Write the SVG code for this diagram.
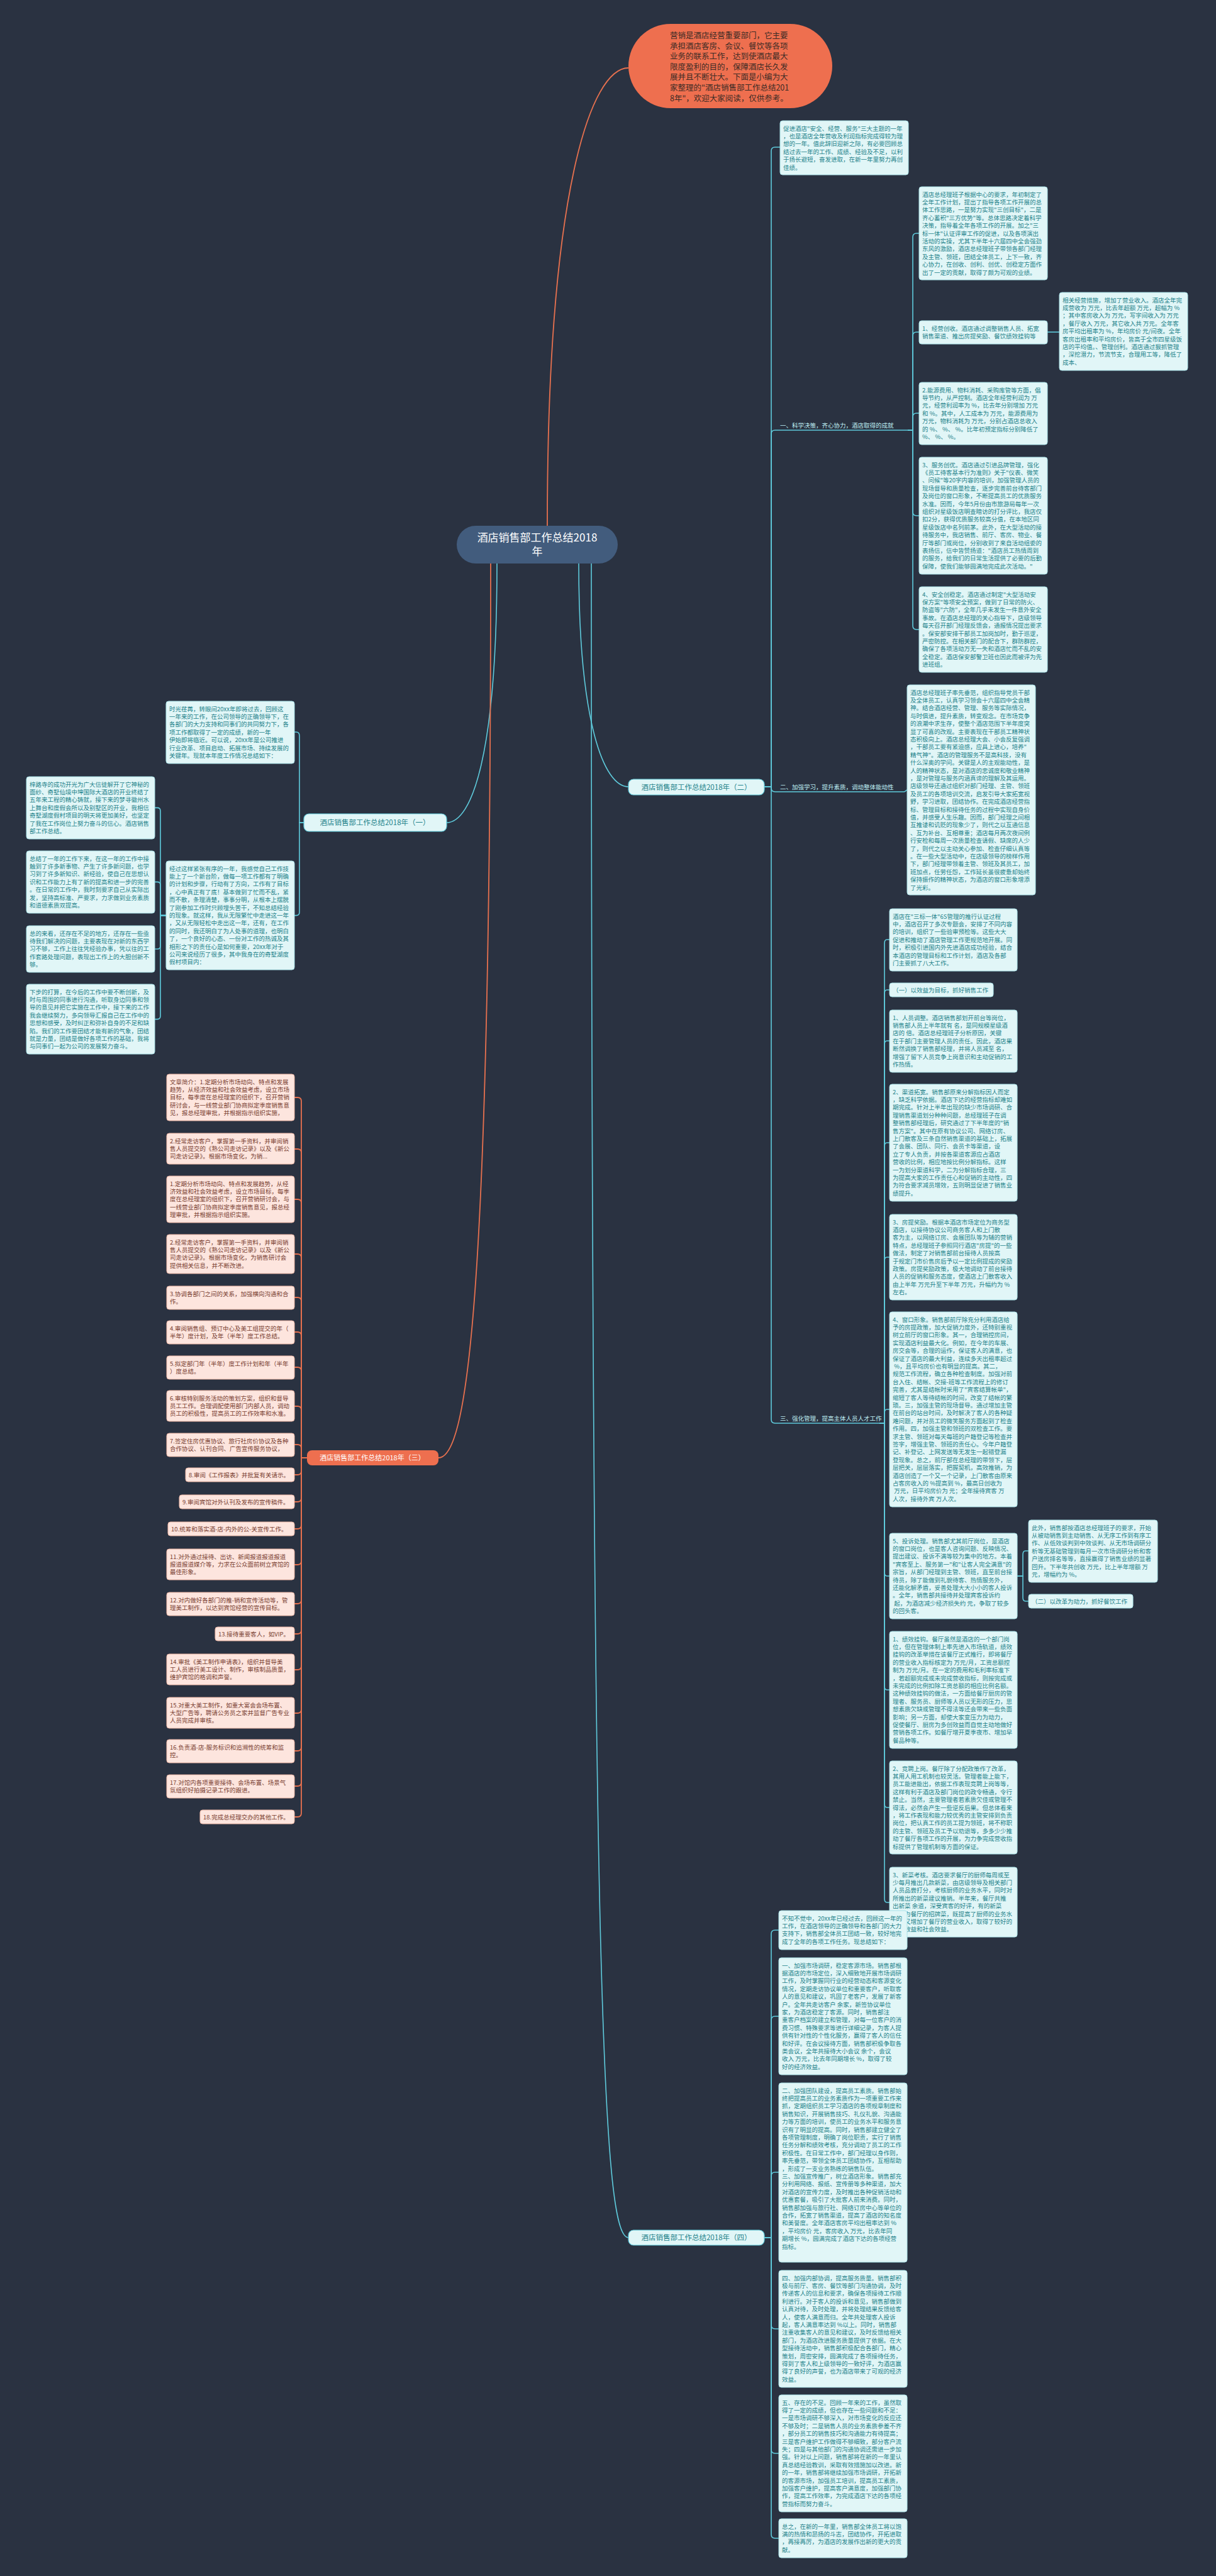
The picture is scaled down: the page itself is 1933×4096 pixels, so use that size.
<svg xmlns="http://www.w3.org/2000/svg" width="1933" height="4096" viewBox="0 0 1933 4096">
<style>
text{font-family:"Noto Sans CJK SC","Noto Sans",sans-serif}
.tb{fill:#e1f6f7;stroke:#a9e2e8;stroke-width:1}
.tt{fill:#24838b;font-size:9.5px}
.pb{fill:#fde5de;stroke:#eeb7a6;stroke-width:1}
.pt{fill:#7a3f32;font-size:9.5px}
.cl{fill:none;stroke:#5fcbdc;stroke-width:1.6}
.co{fill:none;stroke:#e7714f;stroke-width:1.8}
.lb{fill:#bfeef3;font-size:9.5px}
.bn{fill:#e1f6f7;stroke:#5fcbdc;stroke-width:1.2}
.bt{fill:#24838b;font-size:11.5px}
</style>
<rect x="0" y="0" width="1933" height="4096" fill="#2a3241"/>
<g id="connectors">
<path class="co" d="M870,836 C870,300 940,108 999,108"/>
<path class="cl" d="M920,896 C920,1150 960,1251 999,1251"/>
<path class="cl" d="M940,896 C940,3200 960,3558 999,3558"/>
<path class="cl" d="M790,896 C790,1200 750,1308 710,1308"/>
<path class="co" d="M780,896 C780,2100 740,2318 697,2318"/>
<path class="cl" d="M483,1308 H476 V1170 Q476,1164 471,1164 H468"/>
<path class="cl" d="M483,1308 H476 V1450.6 Q476,1455.6 471,1455.6 H468"/>
<path class="cl" d="M264,1455.6 H255 V1289.4 Q255,1284.4 250,1284.4 H246"/>
<path class="cl" d="M264,1455.6 H255 V1407.4 Q255,1402.4 250,1402.4 H246"/>
<path class="cl" d="M264,1455.6 H255 V1504 Q255,1509 250,1509 H246"/>
<path class="cl" d="M264,1455.6 H255 V1615.6 Q255,1620.6 250,1620.6 H246"/>
<path class="cl" d="M1215,1251 H1226 V240 Q1226,234 1232,234 H1240"/>
<path class="cl" d="M1215,1251 H1226 V690 Q1226,684 1232,684 H1237"/>
<path class="cl" d="M1215,1251 H1226 V1253 Q1226,1259 1232,1259 H1237"/>
<path class="cl" d="M1215,1251 H1226 V2257 Q1226,2263 1232,2263 H1237"/>
<path class="cl" d="M1237,684 H1443"/>
<path class="cl" d="M1237,1259 H1437 C1440,1259 1440,1256 1442,1256"/>
<path class="cl" d="M1237,2263 H1398"/>
<path class="cl" d="M1443,684 H1451 V377 Q1451,371 1457,371 H1461"/>
<path class="cl" d="M1443,684 H1451 V534 Q1451,528 1457,528 H1461"/>
<path class="cl" d="M1443,684 H1451 V663 Q1451,657 1457,657 H1461"/>
<path class="cl" d="M1443,684 H1451 V814 Q1451,820 1457,820 H1461"/>
<path class="cl" d="M1443,684 H1451 V995 Q1451,1001 1457,1001 H1461"/>
<path class="cl" d="M1665,528 H1684"/>
<path class="cl" d="M1398,2263 H1406 V1500 Q1406,1494 1410,1494 H1414"/>
<path class="cl" d="M1398,2263 H1406 V1580 Q1406,1574 1410,1574 H1414"/>
<path class="cl" d="M1398,2263 H1406 V1661 Q1406,1655 1410,1655 H1414"/>
<path class="cl" d="M1398,2263 H1406 V1823 Q1406,1817 1410,1817 H1414"/>
<path class="cl" d="M1398,2263 H1406 V2005 Q1406,1999 1410,1999 H1414"/>
<path class="cl" d="M1398,2263 H1406 V2247 Q1406,2241 1410,2241 H1414"/>
<path class="cl" d="M1398,2263 H1406 V2500 Q1406,2506 1410,2506 H1414"/>
<path class="cl" d="M1398,2263 H1406 V2681 Q1406,2687 1410,2687 H1414"/>
<path class="cl" d="M1398,2263 H1406 V2868 Q1406,2874 1410,2874 H1414"/>
<path class="cl" d="M1398,2263 H1406 V3019 Q1406,3025 1410,3025 H1414"/>
<path class="cl" d="M1617,2506 H1626 V2472 Q1626,2466 1630,2466 H1635"/>
<path class="cl" d="M1617,2506 H1626 V2540 Q1626,2546 1630,2546 H1635"/>
<path class="cl" d="M1215,3558 H1226 V3075 Q1226,3069 1232,3069 H1238"/>
<path class="cl" d="M1215,3558 H1226 V3212 Q1226,3206 1232,3206 H1238"/>
<path class="cl" d="M1215,3558 H1226 V3460 Q1226,3454 1232,3454 H1238"/>
<path class="cl" d="M1215,3558 H1226 V3697 Q1226,3703 1232,3703 H1238"/>
<path class="cl" d="M1215,3558 H1226 V3895 Q1226,3901 1232,3901 H1238"/>
<path class="cl" d="M1215,3558 H1226 V4030 Q1226,4036 1232,4036 H1238"/>
<path class="co" d="M488,2318 H479 V1751 Q479,1745 473,1745 H468"/>
<path class="co" d="M488,2318 H479 V1833 Q479,1827 473,1827 H468"/>
<path class="co" d="M488,2318 H479 V1913 Q479,1907 473,1907 H468"/>
<path class="co" d="M488,2318 H479 V2000 Q479,1994 473,1994 H468"/>
<path class="co" d="M488,2318 H479 V2069 Q479,2063 473,2063 H468"/>
<path class="co" d="M488,2318 H479 V2124 Q479,2118 473,2118 H468"/>
<path class="co" d="M488,2318 H479 V2180 Q479,2174 473,2174 H468"/>
<path class="co" d="M488,2318 H479 V2242 Q479,2236 473,2236 H468"/>
<path class="co" d="M488,2318 H479 V2303 Q479,2297 473,2297 H468"/>
<path class="co" d="M488,2318 H479 V2339 Q479,2345 473,2345 H468"/>
<path class="co" d="M488,2318 H479 V2382 Q479,2388 473,2388 H468"/>
<path class="co" d="M488,2318 H479 V2425 Q479,2431 473,2431 H468"/>
<path class="co" d="M488,2318 H479 V2482 Q479,2488 473,2488 H468"/>
<path class="co" d="M488,2318 H479 V2544 Q479,2550 473,2550 H468"/>
<path class="co" d="M488,2318 H479 V2592 Q479,2598 473,2598 H468"/>
<path class="co" d="M488,2318 H479 V2649 Q479,2655 473,2655 H468"/>
<path class="co" d="M488,2318 H479 V2718 Q479,2724 473,2724 H468"/>
<path class="co" d="M488,2318 H479 V2778 Q479,2784 473,2784 H468"/>
<path class="co" d="M488,2318 H479 V2834 Q479,2840 473,2840 H468"/>
<path class="co" d="M488,2318 H479 V2883 Q479,2889 473,2889 H468"/>
</g>
<g id="center"><rect x="726" y="836" width="256" height="60" rx="30" fill="#425c7d"/><text x="854" y="861" fill="#ffffff" font-size="17" text-anchor="middle">酒店销售部工作总结2018<tspan x="854" dy="22">年</tspan></text></g>
<g id="intro-node"><rect x="999" y="38" width="324" height="134" rx="67" fill="#ee6f4f"/><text x="1065" y="61" fill="#3b2b25" font-size="12.5"><tspan x="1065">营销是酒店经营重要部门，它主要</tspan><tspan x="1065" dy="16.6">承担酒店客房、会议、餐饮等各项</tspan><tspan x="1065" dy="16.6">业务的联系工作，达到使酒店最大</tspan><tspan x="1065" dy="16.6">限度盈利的目的，保障酒店长久发</tspan><tspan x="1065" dy="16.6">展并且不断壮大。下面是小编为大</tspan><tspan x="1065" dy="16.6">家整理的"酒店销售部工作总结201</tspan><tspan x="1065" dy="16.6">8年"，欢迎大家阅读，仅供参考。</tspan></text></g>
<g id="branch1"><rect class="bn" x="483" y="1294" width="227" height="28" rx="8"/><text class="bt" x="596" y="1312" text-anchor="middle">酒店销售部工作总结2018年（一）</text></g>
<g id="branch2"><rect class="bn" x="999" y="1239" width="216" height="25" rx="8"/><text class="bt" x="1107" y="1255.5" text-anchor="middle">酒店销售部工作总结2018年（二）</text></g>
<g id="branch3"><rect x="488" y="2306" width="209" height="24" rx="8" fill="#ee6f4f"/><text x="592" y="2322" fill="#ffffff" font-size="11" text-anchor="middle">酒店销售部工作总结2018年（三）</text></g>
<g id="branch4"><rect class="bn" x="999" y="3546" width="216" height="24" rx="8"/><text class="bt" x="1107" y="3562" text-anchor="middle">酒店销售部工作总结2018年（四）</text></g>
<g id="b1-a"><rect class="tb" x="264" y="1115" width="204" height="99" rx="4"/><text class="tt" x="269" y="1130.5"><tspan x="269">时光荏苒，转眼间20xx年即将过去，回顾这</tspan><tspan x="269" dy="12.4">一年来的工作，在公司领导的正确领导下，在</tspan><tspan x="269" dy="12.4">各部门的大力支持和同事们的共同努力下，各</tspan><tspan x="269" dy="12.4">项工作都取得了一定的成绩，新的一年</tspan><tspan x="269" dy="12.4">伊始即将临近。可以说，20xx年是公司推进</tspan><tspan x="269" dy="12.4">行业改革、项目启动、拓展市场、持续发展的</tspan><tspan x="269" dy="12.4">关键年。现就本年度工作情况总结如下：</tspan></text></g>
<g id="b1-b"><rect class="tb" x="264" y="1369" width="204" height="173" rx="4"/><text class="tt" x="269" y="1384.5"><tspan x="269">经过这样紧张有序的一年，我感觉自己工作技</tspan><tspan x="269" dy="12.4">能上了一个新台阶，做每一项工作都有了明确</tspan><tspan x="269" dy="12.4">的计划和步骤，行动有了方向，工作有了目标</tspan><tspan x="269" dy="12.4">，心中真正有了底！基本做到了忙而不乱，紧</tspan><tspan x="269" dy="12.4">而不散，条理清楚，事事分明，从根本上摆脱</tspan><tspan x="269" dy="12.4">了刚参加工作时只顾埋头苦干，不知总结经验</tspan><tspan x="269" dy="12.4">的现象。就这样，我从无限繁忙中走进这一年</tspan><tspan x="269" dy="12.4">，又从无限轻松中走出这一年，还有，在工作</tspan><tspan x="269" dy="12.4">的同时，我还明白了为人处事的道理，也明白</tspan><tspan x="269" dy="12.4">了，一个良好的心态、一份对工作的热诚及其</tspan><tspan x="269" dy="12.4">相形之下的责任心是如何重要，20xx年对于</tspan><tspan x="269" dy="12.4">公司来说经历了很多，其中我身在的奇墅湖度</tspan><tspan x="269" dy="12.4">假村项目内：</tspan></text></g>
<g id="b1-b1"><rect class="tb" x="42" y="1235" width="204" height="99" rx="4"/><text class="tt" x="47" y="1250.5"><tspan x="47">梓路寺的成功开光为广大信徒解开了它神秘的</tspan><tspan x="47" dy="12.4">面纱、奇墅仙境中坤国际大酒店的开业终结了</tspan><tspan x="47" dy="12.4">五年来工程的精心铸就，接下来的梦寻徽州水</tspan><tspan x="47" dy="12.4">上舞台和度假会所以及别墅区的开业，我相信</tspan><tspan x="47" dy="12.4">奇墅湖度假村项目的明天将更加美好，也坚定</tspan><tspan x="47" dy="12.4">了我在工作岗位上努力奋斗的信心。酒店销售</tspan><tspan x="47" dy="12.4">部工作总结。</tspan></text></g>
<g id="b1-b2"><rect class="tb" x="42" y="1353" width="204" height="99" rx="4"/><text class="tt" x="47" y="1368.5"><tspan x="47">总结了一年的工作下来，在这一年的工作中接</tspan><tspan x="47" dy="12.4">触到了许多新事物、产生了许多新问题，也学</tspan><tspan x="47" dy="12.4">习到了许多新知识、新经验，使自己在思想认</tspan><tspan x="47" dy="12.4">识和工作能力上有了新的提高和进一步的完善</tspan><tspan x="47" dy="12.4">。在日常的工作中，我时刻要求自己从实际出</tspan><tspan x="47" dy="12.4">发，坚持高标准、严要求，力求做到业务素质</tspan><tspan x="47" dy="12.4">和道德素质双提高。</tspan></text></g>
<g id="b1-b3"><rect class="tb" x="42" y="1472" width="204" height="74" rx="4"/><text class="tt" x="47" y="1487.5"><tspan x="47">总的来看，还存在不足的地方，还存在一些亟</tspan><tspan x="47" dy="12.4">待我们解决的问题，主要表现在对新的东西学</tspan><tspan x="47" dy="12.4">习不够，工作上往往凭经验办事，凭以往的工</tspan><tspan x="47" dy="12.4">作套路处理问题，表现出工作上的大胆创新不</tspan><tspan x="47" dy="12.4">够。</tspan></text></g>
<g id="b1-b4"><rect class="tb" x="42" y="1565" width="204" height="111" rx="4"/><text class="tt" x="47" y="1580.5"><tspan x="47">下步的打算，在今后的工作中要不断创新，及</tspan><tspan x="47" dy="12.4">时与周围的同事进行沟通，听取身边同事和领</tspan><tspan x="47" dy="12.4">导的意见并把它实施在工作中，接下来的工作</tspan><tspan x="47" dy="12.4">我会继续努力，多向领导汇报自己在工作中的</tspan><tspan x="47" dy="12.4">思想和感受，及时纠正和弥补自身的不足和缺</tspan><tspan x="47" dy="12.4">陷。我们的工作要团结才能有新的气象，团结</tspan><tspan x="47" dy="12.4">就是力量，团结是做好各项工作的基础，我将</tspan><tspan x="47" dy="12.4">与同事们一起为公司的发展努力奋斗。</tspan></text></g>
<g id="b2-intro"><rect class="tb" x="1240" y="192" width="204" height="86" rx="4"/><text class="tt" x="1245" y="207.5"><tspan x="1245">促进酒店"安全、经营、服务"三大主题的一年</tspan><tspan x="1245" dy="12.4">，也是酒店全年营收及利润指标完成得较为理</tspan><tspan x="1245" dy="12.4">想的一年。值此辞旧迎新之际，有必要回顾总</tspan><tspan x="1245" dy="12.4">结过去一年的工作、成绩、经验及不足，以利</tspan><tspan x="1245" dy="12.4">于扬长避短，奋发进取，在新一年里努力再创</tspan><tspan x="1245" dy="12.4">佳绩。</tspan></text></g>
<g id="b2-l1"><text class="lb" x="1240" y="680">一、科学决策，齐心协力，酒店取得的成就</text></g>
<g id="b2-l2"><text class="lb" x="1240" y="1255">二、加强学习，提升素质，调动整体能动性</text></g>
<g id="b2-l3"><text class="lb" x="1240" y="2259">三、强化管理，提高主体人员人才工作</text></g>
<g id="b2-zjl"><rect class="tb" x="1461" y="297" width="204" height="148" rx="4"/><text class="tt" x="1466" y="312.5"><tspan x="1466">酒店总经理班子根据中心的要求，年初制定了</tspan><tspan x="1466" dy="12.4">全年工作计划，提出了指导各项工作开展的总</tspan><tspan x="1466" dy="12.4">体工作思路，一是努力实现"三创目标"，二是</tspan><tspan x="1466" dy="12.4">齐心蓄积"三方优势"等。总体思路决定着科学</tspan><tspan x="1466" dy="12.4">决策，指导着全年各项工作的开展。加之"三</tspan><tspan x="1466" dy="12.4">标一体"认证评审工作的促进，以及各项演出</tspan><tspan x="1466" dy="12.4">活动的实操，尤其下半年十六届四中全会强劲</tspan><tspan x="1466" dy="12.4">东风的激励，酒店总经理班子带领各部门经理</tspan><tspan x="1466" dy="12.4">及主管、领班，团结全体员工，上下一致，齐</tspan><tspan x="1466" dy="12.4">心协力，在创收、创利、创优、创稳定方面作</tspan><tspan x="1466" dy="12.4">出了一定的贡献，取得了颇为可观的业绩。</tspan></text></g>
<g id="b2-jy"><rect class="tb" x="1461" y="510" width="204" height="37" rx="4"/><text class="tt" x="1466" y="525.5"><tspan x="1466">1、经营创收。酒店通过调整销售人员、拓宽</tspan><tspan x="1466" dy="12.4">销售渠道、推出房提奖励、餐饮绩效挂钩等</tspan></text></g>
<g id="b2-jy-r"><rect class="tb" x="1684" y="465" width="204" height="124" rx="4"/><text class="tt" x="1689" y="480.5"><tspan x="1689">相关经营措施，增加了营业收入。酒店全年完</tspan><tspan x="1689" dy="12.4">成营收为 万元，比去年超额 万元，超幅为 %</tspan><tspan x="1689" dy="12.4">；其中客房收入为 万元，写字间收入为 万元</tspan><tspan x="1689" dy="12.4">，餐厅收入 万元，其它收入共 万元。全年客</tspan><tspan x="1689" dy="12.4">房平均出租率为 %，年均房价 元/间夜。全年</tspan><tspan x="1689" dy="12.4">客房出租率和平均房价，皆高于全市四星级饭</tspan><tspan x="1689" dy="12.4">店的平均值。、管理创利。酒店通过狠抓管理</tspan><tspan x="1689" dy="12.4">，深挖潜力，节流节支，合理用工等，降低了</tspan><tspan x="1689" dy="12.4">成本、</tspan></text></g>
<g id="b2-ny"><rect class="tb" x="1461" y="608" width="204" height="99" rx="4"/><text class="tt" x="1466" y="623.5"><tspan x="1466">2.能源费用、物料消耗、采购库管等方面，倡</tspan><tspan x="1466" dy="12.4">导节约，从严控制。酒店全年经营利润为 万</tspan><tspan x="1466" dy="12.4">元，经营利润率为 %，比去年分别增加 万元</tspan><tspan x="1466" dy="12.4">和 %。其中，人工成本为 万元，能源费用为</tspan><tspan x="1466" dy="12.4">万元，物料消耗为 万元，分别占酒店总收入</tspan><tspan x="1466" dy="12.4">的 %、 %、 %。比年初预定指标分别降低了</tspan><tspan x="1466" dy="12.4">%、 %、 %。</tspan></text></g>
<g id="b2-fw"><rect class="tb" x="1461" y="727" width="204" height="186" rx="4"/><text class="tt" x="1466" y="742.5"><tspan x="1466">3、服务创优。酒店通过引进品牌管理，强化</tspan><tspan x="1466" dy="12.4">《员工待客基本行为准则》关于"仪表、微笑</tspan><tspan x="1466" dy="12.4">、问候"等20字内容的培训，加强管理人员的</tspan><tspan x="1466" dy="12.4">现场督导和质量检查，逐步完善前台待客部门</tspan><tspan x="1466" dy="12.4">及岗位的窗口形象，不断提高员工的优质服务</tspan><tspan x="1466" dy="12.4">水准。因而，今年5月份由市旅游局每年一次</tspan><tspan x="1466" dy="12.4">组织对星级饭店明查暗访的打分评比，我店仅</tspan><tspan x="1466" dy="12.4">扣2分，获得优质服务较高分值，在本地区同</tspan><tspan x="1466" dy="12.4">星级饭店中名列前茅。此外，在大型活动的接</tspan><tspan x="1466" dy="12.4">待服务中，我店销售、前厅、客房、物业、餐</tspan><tspan x="1466" dy="12.4">厅等部门或岗位，分别收到了来自活动组委的</tspan><tspan x="1466" dy="12.4">表扬信，信中皆赞扬道："酒店员工热情周到</tspan><tspan x="1466" dy="12.4">的服务，给我们的日常生活提供了必要的后勤</tspan><tspan x="1466" dy="12.4">保障，使我们能够圆满地完成此次活动。"</tspan></text></g>
<g id="b2-aq"><rect class="tb" x="1461" y="933" width="204" height="136" rx="4"/><text class="tt" x="1466" y="948.5"><tspan x="1466">4、安全创稳定。酒店通过制定"大型活动安</tspan><tspan x="1466" dy="12.4">保方案"等项安全预案，做到了日常的防火、</tspan><tspan x="1466" dy="12.4">防盗等"六防"，全年几乎未发生一件意外安全</tspan><tspan x="1466" dy="12.4">事故。在酒店总经理的关心指导下，店级领导</tspan><tspan x="1466" dy="12.4">每天召开部门经理反馈会，通报情况提出要求</tspan><tspan x="1466" dy="12.4">。保安部安排干部员工加岗加时，勤于巡逻，</tspan><tspan x="1466" dy="12.4">严密防控。在相关部门的配合下，群防群控，</tspan><tspan x="1466" dy="12.4">确保了各项活动万无一失和酒店忙而不乱的安</tspan><tspan x="1466" dy="12.4">全稳定。酒店保安部警卫班也因此而被评为先</tspan><tspan x="1466" dy="12.4">进班组。</tspan></text></g>
<g id="b2-big"><rect class="tb" x="1442" y="1089" width="204" height="334" rx="4"/><text class="tt" x="1447" y="1104.5"><tspan x="1447">酒店总经理班子率先垂范，组织指导党员干部</tspan><tspan x="1447" dy="12.4">及全体员工，认真学习领会十六届四中全会精</tspan><tspan x="1447" dy="12.4">神。结合酒店经营、管理、服务等实际情况，</tspan><tspan x="1447" dy="12.4">与时俱进，提升素质，转变观念。在市场竞争</tspan><tspan x="1447" dy="12.4">的浪潮中求生存，使整个酒店范围下半年度突</tspan><tspan x="1447" dy="12.4">显了可喜的改观。主要表现在干部员工精神状</tspan><tspan x="1447" dy="12.4">态积极向上。酒店总经理大会、小会反复强调</tspan><tspan x="1447" dy="12.4">，干部员工要有紧迫感，应具上进心，培养"</tspan><tspan x="1447" dy="12.4">精气神"。酒店的管理服务不是高科技，没有</tspan><tspan x="1447" dy="12.4">什么深奥的学问。关键是人的主观能动性，是</tspan><tspan x="1447" dy="12.4">人的精神状态，是对酒店的忠诚度和敬业精神</tspan><tspan x="1447" dy="12.4">，是对管理与服务内涵真谛的理解及其运用。</tspan><tspan x="1447" dy="12.4">店级领导还通过组织对部门经理、主管、领班</tspan><tspan x="1447" dy="12.4">及员工的各项培训交流，启发引导大家拓宽视</tspan><tspan x="1447" dy="12.4">野，学习进取，团结协作。在完成酒店经营指</tspan><tspan x="1447" dy="12.4">标、管理目标和接待任务的过程中实现自身价</tspan><tspan x="1447" dy="12.4">值，并感受人生乐趣。因而，部门经理之间相</tspan><tspan x="1447" dy="12.4">互推诿和讥贬的现象少了，则代之以互通信息</tspan><tspan x="1447" dy="12.4">、互为补台、互相尊重；酒店每月两次夜间例</tspan><tspan x="1447" dy="12.4">行安检和每周一次质量检查请假、缺席的人少</tspan><tspan x="1447" dy="12.4">了，则代之以主动关心参加、检查仔细认真等</tspan><tspan x="1447" dy="12.4">。在一些大型活动中，在店级领导的榜样作用</tspan><tspan x="1447" dy="12.4">下，部门经理带领着主管、领班及其员工，加</tspan><tspan x="1447" dy="12.4">班加点，任劳任怨，工作延长虽很疲惫却始终</tspan><tspan x="1447" dy="12.4">保持振作的精神状态，为酒店的窗口形象增添</tspan><tspan x="1447" dy="12.4">了光彩。</tspan></text></g>
<g id="b2-3-1"><rect class="tb" x="1414" y="1445" width="203" height="99" rx="4"/><text class="tt" x="1419" y="1460.5"><tspan x="1419">酒店在"三标一体"6S管理的推行认证过程</tspan><tspan x="1419" dy="12.4">中，酒店召开了多次专题会，安排了不同内容</tspan><tspan x="1419" dy="12.4">的培训，组织了一些验审预检等。这些大大</tspan><tspan x="1419" dy="12.4">促进和推动了酒店管理工作更规范地开展。同</tspan><tspan x="1419" dy="12.4">时，积极引进国内外先进酒店成功经验，结合</tspan><tspan x="1419" dy="12.4">本酒店的管理目标和工作计划，酒店及各部</tspan><tspan x="1419" dy="12.4">门主要抓了八大工作。</tspan></text></g>
<g id="b2-3-2"><rect class="tb" x="1414" y="1563" width="165" height="22" rx="4"/><text class="tt" x="1419" y="1577.5">（一）以效益为目标，抓好销售工作</text></g>
<g id="b2-3-3"><rect class="tb" x="1414" y="1606" width="203" height="99" rx="4"/><text class="tt" x="1419" y="1621.5"><tspan x="1419">1、人员调整。酒店销售部划开前台等岗位，</tspan><tspan x="1419" dy="12.4">销售部人员上半年就有 名，是同规模星级酒</tspan><tspan x="1419" dy="12.4">店的 倍。酒店总经理班子分析原因，关键</tspan><tspan x="1419" dy="12.4">在于部门主要管理人员的责任。因此，酒店果</tspan><tspan x="1419" dy="12.4">断然调换了销售部经理，并将人员减至 名，</tspan><tspan x="1419" dy="12.4">增强了留下人员竞争上岗意识和主动促销的工</tspan><tspan x="1419" dy="12.4">作热情。</tspan></text></g>
<g id="b2-3-4"><rect class="tb" x="1414" y="1724" width="203" height="186" rx="4"/><text class="tt" x="1419" y="1739.5"><tspan x="1419">2、渠道拓宽。销售部原来分解指标因人而定</tspan><tspan x="1419" dy="12.4">，缺乏科学依据。酒店下达的经营指标却难如</tspan><tspan x="1419" dy="12.4">期完成。针对上半年出现的缺少市场调研、合</tspan><tspan x="1419" dy="12.4">理销售渠道划分种种问题，总经理班子在调</tspan><tspan x="1419" dy="12.4">整销售部经理后，研究通过了下半年度的"销</tspan><tspan x="1419" dy="12.4">售方案"。其中在原有协议公司、网络订房、</tspan><tspan x="1419" dy="12.4">上门散客及三条自然销售渠道的基础上，拓展</tspan><tspan x="1419" dy="12.4">了会展、团队、同行、会员卡等渠道，设</tspan><tspan x="1419" dy="12.4">立了专人负责，并按各渠道客源应占酒店</tspan><tspan x="1419" dy="12.4">营收的比例，相应地按比例分解指标。这样</tspan><tspan x="1419" dy="12.4">一为划分渠道科学，二为分解指标合理，三</tspan><tspan x="1419" dy="12.4">为提高大家的工作责任心和促销的主动性，四</tspan><tspan x="1419" dy="12.4">为符合要求减员增效，五则明显促进了销售业</tspan><tspan x="1419" dy="12.4">绩提升。</tspan></text></g>
<g id="b2-3-5"><rect class="tb" x="1414" y="1931" width="203" height="136" rx="4"/><text class="tt" x="1419" y="1946.5"><tspan x="1419">3、房提奖励。根据本酒店市场定位为商务型</tspan><tspan x="1419" dy="12.4">酒店，以接待协议公司商务客人和上门散</tspan><tspan x="1419" dy="12.4">客为主，以网络订房、会展团队等为辅的营销</tspan><tspan x="1419" dy="12.4">特点，总经理班子参照同行酒店"房提"的一些</tspan><tspan x="1419" dy="12.4">做法，制定了对销售部前台接待人员按高</tspan><tspan x="1419" dy="12.4">于规定门市价售房后予以一定比例提成的奖励</tspan><tspan x="1419" dy="12.4">政策。房提奖励政策，极大地调动了前台接待</tspan><tspan x="1419" dy="12.4">人员的促销和服务态度，使酒店上门散客收入</tspan><tspan x="1419" dy="12.4">由上半年 万元升至下半年 万元，升幅约为 %</tspan><tspan x="1419" dy="12.4">左右。</tspan></text></g>
<g id="b2-3-6"><rect class="tb" x="1414" y="2086" width="203" height="310" rx="4"/><text class="tt" x="1419" y="2101.5"><tspan x="1419">4、窗口形象。销售部前厅除充分利用酒店给</tspan><tspan x="1419" dy="12.4">予的房提政策，加大促销力度外，还特别重视</tspan><tspan x="1419" dy="12.4">树立前厅的窗口形象。其一，合理销控房间，</tspan><tspan x="1419" dy="12.4">实现酒店利益最大化。例如，在今年的车展、</tspan><tspan x="1419" dy="12.4">房交会等，合理的运作，保证客人的满意，也</tspan><tspan x="1419" dy="12.4">保证了酒店的最大利益，连续多天出租率超过</tspan><tspan x="1419" dy="12.4"> %，且平均房价也有明显的提高。其二，</tspan><tspan x="1419" dy="12.4">规范工作流程，确立各种检查制度。加强对前</tspan><tspan x="1419" dy="12.4">台入住、结帐、交接-班等工作流程上的修订</tspan><tspan x="1419" dy="12.4">完善，尤其是结帐时采用了"宾客结算帐单"，</tspan><tspan x="1419" dy="12.4">缩短了客人等待结帐的时间，改变了结帐的繁</tspan><tspan x="1419" dy="12.4">琐。三，加强主管的现场督导。通过增加主管</tspan><tspan x="1419" dy="12.4">在前台的站台时间，及时解决了客人的各种疑</tspan><tspan x="1419" dy="12.4">难问题，并对员工的微笑服务方面起到了检查</tspan><tspan x="1419" dy="12.4">作用。四，加强主管和领班的双检查工作。要</tspan><tspan x="1419" dy="12.4">求主管、领班对每天每班的户籍登记等检查并</tspan><tspan x="1419" dy="12.4">签字，增强主管、领班的责任心。今年户籍登</tspan><tspan x="1419" dy="12.4">记、补登记、上网发送等无发生一起错登漏</tspan><tspan x="1419" dy="12.4">登现象。总之，前厅部在总经理的带领下，层</tspan><tspan x="1419" dy="12.4">层把关，层层落实，把握契机，高效推销，为</tspan><tspan x="1419" dy="12.4">酒店创造了一个又一个记录，上门散客由原来</tspan><tspan x="1419" dy="12.4">占客房收入的 %提高到 %，最高日创收为</tspan><tspan x="1419" dy="12.4"> 万元，日平均房价为 元；全年接待宾客 万</tspan><tspan x="1419" dy="12.4">人次，接待外宾 万人次。</tspan></text></g>
<g id="b2-3-7"><rect class="tb" x="1414" y="2438" width="203" height="136" rx="4"/><text class="tt" x="1419" y="2453.5"><tspan x="1419">5、投诉处理。销售部尤其前厅岗位，是酒店</tspan><tspan x="1419" dy="12.4">的窗口岗位，也是客人咨询问题、反映情况、</tspan><tspan x="1419" dy="12.4">提出建议、投诉不满等较为集中的地方。本着</tspan><tspan x="1419" dy="12.4">"宾客至上、服务第一"和"让客人完全满意"的</tspan><tspan x="1419" dy="12.4">宗旨，从部门经理到主管、领班，直至前台接</tspan><tspan x="1419" dy="12.4">待员，除了能做到礼貌待客、热情服务外，</tspan><tspan x="1419" dy="12.4">还能化解矛盾，妥善处理大大小小的客人投诉</tspan><tspan x="1419" dy="12.4">。全年，销售部共接待并处理宾客投诉约</tspan><tspan x="1419" dy="12.4"> 起，为酒店减少经济损失约 元，争取了较多</tspan><tspan x="1419" dy="12.4">的回头客。</tspan></text></g>
<g id="b2-3-7a"><rect class="tb" x="1635" y="2417" width="205" height="99" rx="4"/><text class="tt" x="1640" y="2432.5"><tspan x="1640">此外，销售部按酒店总经理班子的要求，开始</tspan><tspan x="1640" dy="12.4">从被动销售到主动销售、从无序工作到有序工</tspan><tspan x="1640" dy="12.4">作、从低效谈判到中效谈判、从无市场调研分</tspan><tspan x="1640" dy="12.4">析等无基础管理到每月一次市场调研分析和客</tspan><tspan x="1640" dy="12.4">户送房排名等等，直接赢得了销售业绩的显著</tspan><tspan x="1640" dy="12.4">回升。下半年共创收 万元，比上半年增额 万</tspan><tspan x="1640" dy="12.4">元，增幅约为 %。</tspan></text></g>
<g id="b2-3-7b"><rect class="tb" x="1635" y="2535" width="166" height="22" rx="4"/><text class="tt" x="1640" y="2549.5">（二）以改革为动力，抓好餐饮工作</text></g>
<g id="b2-3-8"><rect class="tb" x="1414" y="2594" width="203" height="186" rx="4"/><text class="tt" x="1419" y="2609.5"><tspan x="1419">1、绩效挂钩。餐厅虽然是酒店的一个部门岗</tspan><tspan x="1419" dy="12.4">位，但在管理体制上率先进入市场轨道，绩效</tspan><tspan x="1419" dy="12.4">挂钩的改革举措在该餐厅正式推行，即将餐厅</tspan><tspan x="1419" dy="12.4">的营业收入指标核定为 万元/月，工资总额控</tspan><tspan x="1419" dy="12.4">制为 万元/月。在一定的费用和毛利率标准下</tspan><tspan x="1419" dy="12.4">，若超额完成或未完成营收指标，则按完成或</tspan><tspan x="1419" dy="12.4">未完成的比例扣除工资总额的相应比例名额。</tspan><tspan x="1419" dy="12.4">这种绩效挂钩的做法，一方面给餐厅厨房的管</tspan><tspan x="1419" dy="12.4">理者、服务员、厨师等人员以无形的压力，思</tspan><tspan x="1419" dy="12.4">想素质欠缺或管理不得法等还会带来一些负面</tspan><tspan x="1419" dy="12.4">影响；另一方面，却使大家变压力为动力，</tspan><tspan x="1419" dy="12.4">促使餐厅、厨房为多创效益而自觉主动地做好</tspan><tspan x="1419" dy="12.4">营销各项工作。如餐厅增开夏季夜市、增加早</tspan><tspan x="1419" dy="12.4">餐品种等。</tspan></text></g>
<g id="b2-3-9"><rect class="tb" x="1414" y="2800" width="203" height="148" rx="4"/><text class="tt" x="1419" y="2815.5"><tspan x="1419">2、竞聘上岗。餐厅除了分配政策作了改革，</tspan><tspan x="1419" dy="12.4">其用人用工机制也较灵活。管理者能上能下，</tspan><tspan x="1419" dy="12.4">员工能进能出，依据工作表现竞聘上岗等等，</tspan><tspan x="1419" dy="12.4">这样有利于酒店及部门岗位的政令畅通，令行</tspan><tspan x="1419" dy="12.4">禁止。当然，主要管理者若素质欠佳或管理不</tspan><tspan x="1419" dy="12.4">得法，必然会产生一些逆反后果。但总体看来</tspan><tspan x="1419" dy="12.4">，将工作表现和能力较优秀的主管安排到负责</tspan><tspan x="1419" dy="12.4">岗位，把认真工作的员工提为领班，将不称职</tspan><tspan x="1419" dy="12.4">的主管、领班及员工予以劝退等，多多少少推</tspan><tspan x="1419" dy="12.4">动了餐厅各项工作的开展，为力争完成营收指</tspan><tspan x="1419" dy="12.4">标提供了管理机制等方面的保证。</tspan></text></g>
<g id="b2-3-10"><rect class="tb" x="1414" y="2969" width="203" height="111" rx="4"/><text class="tt" x="1419" y="2984.5"><tspan x="1419">3、新菜考核。酒店要求餐厅的厨师每周或至</tspan><tspan x="1419" dy="12.4">少每月推出几款新菜，由店级领导及相关部门</tspan><tspan x="1419" dy="12.4">人员品尝打分，考核厨师的业务水平，同时对</tspan><tspan x="1419" dy="12.4">所推出的新菜建议推销。半年来，餐厅共推</tspan><tspan x="1419" dy="12.4">出新菜 余道，深受宾客的好评，有的新菜</tspan><tspan x="1419" dy="12.4">已成为餐厅的招牌菜，既提高了厨师的业务水</tspan><tspan x="1419" dy="12.4">平，又增加了餐厅的营业收入，取得了较好的</tspan><tspan x="1419" dy="12.4">经济效益和社会效益。</tspan></text></g>
<g id="b3-1"><rect class="pb" x="265" y="1708" width="203" height="74" rx="4"/><text class="pt" x="270" y="1723.5"><tspan x="270">文章简介：1.定期分析市场动向、特点和发展</tspan><tspan x="270" dy="12.4">趋势，从经济效益和社会效益考虑，设立市场</tspan><tspan x="270" dy="12.4">目标，每季度在总经理室的组织下，召开营销</tspan><tspan x="270" dy="12.4">研讨会，与一线营业部门协商拟定季度销售意</tspan><tspan x="270" dy="12.4">见，报总经理审批，并根据指示组织实施，</tspan></text></g>
<g id="b3-2"><rect class="pb" x="265" y="1802" width="203" height="49" rx="4"/><text class="pt" x="270" y="1817.5"><tspan x="270">2.经常走访客户，掌握第一手资料，并审阅销</tspan><tspan x="270" dy="12.4">售人员提交的《熟公司走访记录》以及《新公</tspan><tspan x="270" dy="12.4">司走访记录》。根据市场变化，为销...</tspan></text></g>
<g id="b3-3"><rect class="pb" x="265" y="1870" width="203" height="74" rx="4"/><text class="pt" x="270" y="1885.5"><tspan x="270">1.定期分析市场动向、特点和发展趋势，从经</tspan><tspan x="270" dy="12.4">济效益和社会效益考虑，设立市场目标，每季</tspan><tspan x="270" dy="12.4">度在总经理室的组织下，召开营销研讨会，与</tspan><tspan x="270" dy="12.4">一线营业部门协商拟定季度销售意见，报总经</tspan><tspan x="270" dy="12.4">理审批，并根据指示组织实施。</tspan></text></g>
<g id="b3-4"><rect class="pb" x="265" y="1963" width="203" height="62" rx="4"/><text class="pt" x="270" y="1978.5"><tspan x="270">2.经常走访客户，掌握第一手资料，并审阅销</tspan><tspan x="270" dy="12.4">售人员提交的《熟公司走访记录》以及《新公</tspan><tspan x="270" dy="12.4">司走访记录》。根据市场变化，为销售研讨会</tspan><tspan x="270" dy="12.4">提供相关信息，并不断改进。</tspan></text></g>
<g id="b3-5"><rect class="pb" x="265" y="2045" width="203" height="37" rx="4"/><text class="pt" x="270" y="2060.5"><tspan x="270">3.协调各部门之间的关系，加强横向沟通和合</tspan><tspan x="270" dy="12.4">作。</tspan></text></g>
<g id="b3-6"><rect class="pb" x="265" y="2100" width="203" height="37" rx="4"/><text class="pt" x="270" y="2115.5"><tspan x="270">4.审阅销售组、预订中心及美工组提交的年（</tspan><tspan x="270" dy="12.4">半年）度计划，及年（半年）度工作总结。</tspan></text></g>
<g id="b3-7"><rect class="pb" x="265" y="2156" width="203" height="37" rx="4"/><text class="pt" x="270" y="2171.5"><tspan x="270">5.拟定部门年（半年）度工作计划和年（半年</tspan><tspan x="270" dy="12.4">）度总结。</tspan></text></g>
<g id="b3-8"><rect class="pb" x="265" y="2211" width="203" height="49" rx="4"/><text class="pt" x="270" y="2226.5"><tspan x="270">6.审核特别服务活动的策划方案，组织和督导</tspan><tspan x="270" dy="12.4">员工工作。合理调配使用部门内部人员，调动</tspan><tspan x="270" dy="12.4">员工的积极性，提高员工的工作效率和水准。</tspan></text></g>
<g id="b3-9"><rect class="pb" x="265" y="2279" width="203" height="37" rx="4"/><text class="pt" x="270" y="2294.5"><tspan x="270">7.签定住房优惠协议、旅行社房价协议及各种</tspan><tspan x="270" dy="12.4">合作协议、认刊合同、广告宣传服务协议，</tspan></text></g>
<g id="b3-10"><rect class="pb" x="295" y="2334" width="173" height="22" rx="4"/><text class="pt" x="300" y="2348.5">8.审阅《工作报表》并批复有关请示。</text></g>
<g id="b3-11"><rect class="pb" x="285" y="2377" width="183" height="22" rx="4"/><text class="pt" x="290" y="2391.5">9.审阅宾馆对外认刊及发布的宣传稿件。</text></g>
<g id="b3-12"><rect class="pb" x="267" y="2420" width="201" height="22" rx="4"/><text class="pt" x="272" y="2434.5">10.统筹和落实酒-店-内外的公-关宣传工作。</text></g>
<g id="b3-13"><rect class="pb" x="265" y="2463" width="203" height="49" rx="4"/><text class="pt" x="270" y="2478.5"><tspan x="270">11.对外通过接待、出访、新闻报道报道报道</tspan><tspan x="270" dy="12.4">报道报道媒介等，力求在公众面前树立宾馆的</tspan><tspan x="270" dy="12.4">最佳形象。</tspan></text></g>
<g id="b3-14"><rect class="pb" x="265" y="2532" width="203" height="37" rx="4"/><text class="pt" x="270" y="2547.5"><tspan x="270">12.对内做好各部门的推-销和宣传活动等，管</tspan><tspan x="270" dy="12.4">理美工制作，以达到宾馆经营的宣传目标。</tspan></text></g>
<g id="b3-15"><rect class="pb" x="342" y="2587" width="126" height="22" rx="4"/><text class="pt" x="347" y="2601.5">13.接待重要客人，如VIP。</text></g>
<g id="b3-16"><rect class="pb" x="265" y="2630" width="203" height="49" rx="4"/><text class="pt" x="270" y="2645.5"><tspan x="270">14.审批《美工制作申请表》，组织并督导美</tspan><tspan x="270" dy="12.4">工人员进行美工设计、制作，审核制品质量，</tspan><tspan x="270" dy="12.4">维护宾馆的格调和声誉。</tspan></text></g>
<g id="b3-17"><rect class="pb" x="265" y="2699" width="203" height="49" rx="4"/><text class="pt" x="270" y="2714.5"><tspan x="270">15.对重大美工制作，如重大宴会会场布置、</tspan><tspan x="270" dy="12.4">大型广告等，聘请公务员之家并监督广告专业</tspan><tspan x="270" dy="12.4">人员完成并审核。</tspan></text></g>
<g id="b3-18"><rect class="pb" x="265" y="2766" width="203" height="37" rx="4"/><text class="pt" x="270" y="2781.5"><tspan x="270">16.负责酒-店-服务标识和追溯性的统筹和监</tspan><tspan x="270" dy="12.4">控。</tspan></text></g>
<g id="b3-19"><rect class="pb" x="265" y="2822" width="203" height="37" rx="4"/><text class="pt" x="270" y="2837.5"><tspan x="270">17.对馆内各项重要接待、会场布置、场景气</tspan><tspan x="270" dy="12.4">氛组织好拍摄记录工作的跟进。</tspan></text></g>
<g id="b3-20"><rect class="pb" x="318" y="2878" width="150" height="22" rx="4"/><text class="pt" x="323" y="2892.5">18.完成总经理交办的其他工作。</text></g>
<g id="b4-1"><rect class="tb" x="1238" y="3038" width="204" height="62" rx="4"/><text class="tt" x="1243" y="3053.5"><tspan x="1243">不知不觉中，20xx年已经过去，回顾这一年的</tspan><tspan x="1243" dy="12.4">工作，在酒店领导的正确领导和各部门的大力</tspan><tspan x="1243" dy="12.4">支持下，销售部全体员工团结一致，较好地完</tspan><tspan x="1243" dy="12.4">成了全年的各项工作任务。现总结如下：</tspan></text></g>
<g id="b4-2"><rect class="tb" x="1238" y="3113" width="204" height="186" rx="4"/><text class="tt" x="1243" y="3128.5"><tspan x="1243">一、加强市场调研，稳定客源市场。销售部根</tspan><tspan x="1243" dy="12.4">据酒店的市场定位，深入细致地开展市场调研</tspan><tspan x="1243" dy="12.4">工作，及时掌握同行业的经营动态和客源变化</tspan><tspan x="1243" dy="12.4">情况，定期走访协议单位和重要客户，听取客</tspan><tspan x="1243" dy="12.4">人的意见和建议，巩固了老客户，发展了新客</tspan><tspan x="1243" dy="12.4">户。全年共走访客户 余家，新签协议单位</tspan><tspan x="1243" dy="12.4">家，为酒店稳定了客源。同时，销售部注</tspan><tspan x="1243" dy="12.4">重客户档案的建立和管理，对每一位客户的消</tspan><tspan x="1243" dy="12.4">费习惯、特殊要求等进行详细记录，为客人提</tspan><tspan x="1243" dy="12.4">供有针对性的个性化服务，赢得了客人的信任</tspan><tspan x="1243" dy="12.4">和好评。在会议接待方面，销售部积极争取各</tspan><tspan x="1243" dy="12.4">类会议，全年共接待大小会议 余个，会议</tspan><tspan x="1243" dy="12.4">收入 万元，比去年同期增长 %，取得了较</tspan><tspan x="1243" dy="12.4">好的经济效益。</tspan></text></g>
<g id="b4-3"><rect class="tb" x="1238" y="3312" width="204" height="285" rx="4"/><text class="tt" x="1243" y="3327.5"><tspan x="1243">二、加强团队建设，提高员工素质。销售部始</tspan><tspan x="1243" dy="12.4">终把提高员工的业务素质作为一项重要工作来</tspan><tspan x="1243" dy="12.4">抓，定期组织员工学习酒店的各项规章制度和</tspan><tspan x="1243" dy="12.4">销售知识，开展销售技巧、礼仪礼貌、沟通能</tspan><tspan x="1243" dy="12.4">力等方面的培训，使员工的业务水平和服务意</tspan><tspan x="1243" dy="12.4">识有了明显的提高。同时，销售部建立健全了</tspan><tspan x="1243" dy="12.4">各项管理制度，明确了岗位职责，实行了销售</tspan><tspan x="1243" dy="12.4">任务分解和绩效考核，充分调动了员工的工作</tspan><tspan x="1243" dy="12.4">积极性。在日常工作中，部门经理以身作则，</tspan><tspan x="1243" dy="12.4">率先垂范，带领全体员工团结协作，互相帮助</tspan><tspan x="1243" dy="12.4">，形成了一支业务熟练的销售队伍。</tspan><tspan x="1243" dy="12.4">三、加强宣传推广，树立酒店形象。销售部充</tspan><tspan x="1243" dy="12.4">分利用网络、报纸、宣传册等多种渠道，加大</tspan><tspan x="1243" dy="12.4">对酒店的宣传力度，及时推出各种促销活动和</tspan><tspan x="1243" dy="12.4">优惠套餐，吸引了大批客人前来消费。同时，</tspan><tspan x="1243" dy="12.4">销售部加强与旅行社、网络订房中心等单位的</tspan><tspan x="1243" dy="12.4">合作，拓宽了销售渠道，提高了酒店的知名度</tspan><tspan x="1243" dy="12.4">和美誉度。全年酒店客房平均出租率达到 %</tspan><tspan x="1243" dy="12.4">，平均房价 元，客房收入 万元，比去年同</tspan><tspan x="1243" dy="12.4">期增长 %，圆满完成了酒店下达的各项经营</tspan><tspan x="1243" dy="12.4">指标。</tspan></text></g>
<g id="b4-4"><rect class="tb" x="1238" y="3610" width="204" height="186" rx="4"/><text class="tt" x="1243" y="3625.5"><tspan x="1243">四、加强内部协调，提高服务质量。销售部积</tspan><tspan x="1243" dy="12.4">极与前厅、客房、餐饮等部门沟通协调，及时</tspan><tspan x="1243" dy="12.4">传递客人的信息和要求，确保各项接待工作顺</tspan><tspan x="1243" dy="12.4">利进行。对于客人的投诉和意见，销售部做到</tspan><tspan x="1243" dy="12.4">认真对待，及时处理，并将处理结果反馈给客</tspan><tspan x="1243" dy="12.4">人，使客人满意而归。全年共处理客人投诉</tspan><tspan x="1243" dy="12.4">起，客人满意率达到 %以上。同时，销售部</tspan><tspan x="1243" dy="12.4">注重收集客人的意见和建议，及时反馈给相关</tspan><tspan x="1243" dy="12.4">部门，为酒店改进服务质量提供了依据。在大</tspan><tspan x="1243" dy="12.4">型接待活动中，销售部积极配合各部门，精心</tspan><tspan x="1243" dy="12.4">策划，周密安排，圆满完成了各项接待任务，</tspan><tspan x="1243" dy="12.4">得到了客人和上级领导的一致好评，为酒店赢</tspan><tspan x="1243" dy="12.4">得了良好的声誉，也为酒店带来了可观的经济</tspan><tspan x="1243" dy="12.4">效益。</tspan></text></g>
<g id="b4-5"><rect class="tb" x="1238" y="3808" width="204" height="186" rx="4"/><text class="tt" x="1243" y="3823.5"><tspan x="1243">五、存在的不足。回顾一年来的工作，虽然取</tspan><tspan x="1243" dy="12.4">得了一定的成绩，但也存在一些问题和不足：</tspan><tspan x="1243" dy="12.4">一是市场调研不够深入，对市场变化的反应还</tspan><tspan x="1243" dy="12.4">不够及时；二是销售人员的业务素质参差不齐</tspan><tspan x="1243" dy="12.4">，部分员工的销售技巧和沟通能力有待提高；</tspan><tspan x="1243" dy="12.4">三是客户维护工作做得不够细致，部分客户流</tspan><tspan x="1243" dy="12.4">失；四是与其他部门的沟通协调还需进一步加</tspan><tspan x="1243" dy="12.4">强。针对以上问题，销售部将在新的一年里认</tspan><tspan x="1243" dy="12.4">真总结经验教训，采取有效措施加以改进。新</tspan><tspan x="1243" dy="12.4">的一年，销售部将继续加强市场调研，开拓新</tspan><tspan x="1243" dy="12.4">的客源市场，加强员工培训，提高员工素质，</tspan><tspan x="1243" dy="12.4">加强客户维护，提高客户满意度，加强部门协</tspan><tspan x="1243" dy="12.4">作，提高工作效率，为完成酒店下达的各项经</tspan><tspan x="1243" dy="12.4">营指标而努力奋斗。</tspan></text></g>
<g id="b4-6"><rect class="tb" x="1238" y="4005" width="204" height="62" rx="4"/><text class="tt" x="1243" y="4020.5"><tspan x="1243">总之，在新的一年里，销售部全体员工将以饱</tspan><tspan x="1243" dy="12.4">满的热情和昂扬的斗志，团结协作，开拓进取</tspan><tspan x="1243" dy="12.4">，再接再厉，为酒店的发展作出新的更大的贡</tspan><tspan x="1243" dy="12.4">献。</tspan></text></g>
</svg>
